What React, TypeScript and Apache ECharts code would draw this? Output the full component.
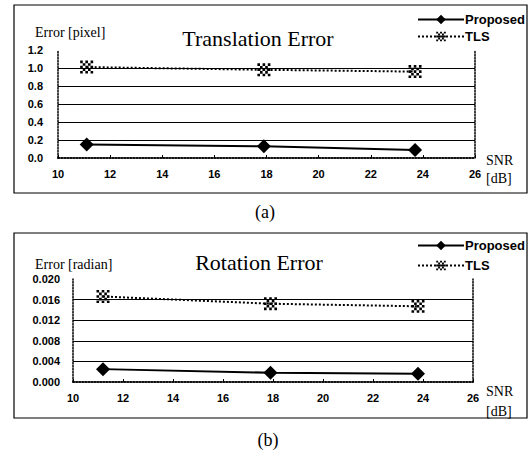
import React, { useEffect, useRef } from "react";
import * as echarts from "echarts";

const snrTrans = [11.1, 17.9, 23.7];
const proposedTrans = [0.15, 0.13, 0.09];
const tlsTrans = [1.01, 0.98, 0.96];

const snrRot = [11.2, 17.9, 23.8];
const proposedRot = [0.0025, 0.0018, 0.0016];
const tlsRot = [0.0166, 0.0152, 0.0147];

const seriesNames = ["Proposed", "TLS"];
const transTitle = "Translation Error";
const rotTitle = "Rotation Error";
const transYLabel = "Error [pixel]";
const rotYLabel = "Error [radian]";

const SERIF = "'Liberation Serif', 'Times New Roman', serif";
const SANS = "'Liberation Sans', Arial, sans-serif";

function checkerPath(n: number): string {
  let d = "path://";
  for (let i = 0; i < n; i++) {
    for (let j = 0; j < n; j++) {
      if ((i + j) % 2 === 0) d += `M${i * 2},${j * 2}h2v2h-2z`;
    }
  }
  return d;
}
const TLS_SYMBOL = checkerPath(5);

export default function App() {
  const ref = useRef<HTMLDivElement>(null);
  useEffect(() => {
    if (!ref.current) return;
    const chart = echarts.init(ref.current, null, { renderer: "svg" });
    const axisLabel = { fontFamily: SANS, fontWeight: "bold" as const, fontSize: 11, color: "#000" };
    const dotted = { show: true, lineStyle: { color: "#000", type: "dotted" as const, width: 1.5 } };
    const mkX = (gridIndex: number) => ({
      type: "value" as const,
      gridIndex,
      min: 10,
      max: 26,
      interval: 2,
      axisLine: dotted,
      axisTick: { show: true, inside: true, length: 3, lineStyle: { color: "#000" } },
      axisLabel: { ...axisLabel, margin: 10 },
      splitLine: { show: false },
    });
    const mkXTop = (gridIndex: number) => ({
      type: "value" as const,
      gridIndex,
      position: "top" as const,
      min: 10,
      max: 26,
      axisLine: dotted,
      axisTick: { show: false },
      axisLabel: { show: false },
      splitLine: { show: false },
    });
    const mkY = (gridIndex: number, max: number, interval: number, digits: number, margin: number) => ({
      type: "value" as const,
      gridIndex,
      min: 0,
      max,
      interval,
      axisLine: dotted,
      axisTick: { show: false },
      axisLabel: { ...axisLabel, margin, formatter: (v: number) => v.toFixed(digits) },
      splitLine: { show: true, showMaxLine: false, showMinLine: false, lineStyle: { color: "#000", width: 1 } },
    });
    const mkYRight = (gridIndex: number, max: number) => ({
      type: "value" as const,
      gridIndex,
      position: "right" as const,
      min: 0,
      max,
      axisLine: dotted,
      axisTick: { show: false },
      axisLabel: { show: false },
      splitLine: { show: false },
    });
    const propStyle = {
      symbol: "diamond",
      symbolSize: 14,
      itemStyle: { color: "#000" },
      lineStyle: { color: "#000", width: 2 },
    };
    const tlsStyle = {
      symbol: TLS_SYMBOL,
      symbolSize: 13,
      itemStyle: { color: "#000" },
      lineStyle: { color: "#000", width: 2, type: "dotted" as const },
    };
    const pairs = (xs: number[], ys: number[]) => xs.map((x, i) => [x, ys[i]]);
    const legend = (top: number, gap: number) => ({
      orient: "vertical" as const,
      left: 412,
      top,
      itemWidth: 46,
      itemHeight: 12,
      itemGap: gap,
      data: seriesNames,
      selectedMode: false,
      textStyle: { fontFamily: SANS, fontWeight: "bold" as const, fontSize: 13, color: "#000", padding: [0, 0, 0, -4] },
    });
    const txt = (x: number, y: number, text: string, size: number, align = "left") => ({
      type: "text" as const,
      x,
      y,
      style: { text, fontFamily: SERIF, fontSize: size, fill: "#000", textAlign: align, textVerticalAlign: "middle" },
    });
    chart.setOption({
      animation: false,
      backgroundColor: "#fff",
      grid: [
        { left: 58, right: 54, top: 50, height: 108 },
        { left: 73, right: 56, top: 279, height: 103 },
      ],
      xAxis: [mkX(0), mkX(1), mkXTop(0), mkXTop(1)],
      yAxis: [mkY(0, 1.2, 0.2, 1, 15), mkY(1, 0.02, 0.004, 3, 13), mkYRight(0, 1.2), mkYRight(1, 0.02)],
      legend: [legend(8, 4), legend(234, 7)],
      series: [
        { name: seriesNames[0], type: "line", xAxisIndex: 0, yAxisIndex: 0, data: pairs(snrTrans, proposedTrans), ...propStyle },
        { name: seriesNames[1], type: "line", xAxisIndex: 0, yAxisIndex: 0, data: pairs(snrTrans, tlsTrans), ...tlsStyle },
        { name: seriesNames[0], type: "line", xAxisIndex: 1, yAxisIndex: 1, data: pairs(snrRot, proposedRot), ...propStyle },
        { name: seriesNames[1], type: "line", xAxisIndex: 1, yAxisIndex: 1, data: pairs(snrRot, tlsRot), ...tlsStyle },
      ],
      graphic: [
        { type: "rect", shape: { x: 14, y: 5, width: 513, height: 188 }, style: { fill: "none", stroke: "#000", lineWidth: 1.2 } },
        { type: "rect", shape: { x: 14, y: 233, width: 513, height: 185 }, style: { fill: "none", stroke: "#000", lineWidth: 1.2 } },
        txt(258, 38, transTitle, 22, "center"),
        txt(35, 32, transYLabel, 14),
        txt(486, 160, "SNR", 14),
        txt(486, 178, "[dB]", 14),
        txt(265, 212, "(a)", 18, "center"),
        txt(259, 262, rotTitle, 22, "center"),
        txt(35, 264, rotYLabel, 14),
        txt(486, 391, "SNR", 14),
        txt(486, 411, "[dB]", 14),
        txt(268, 440, "(b)", 18, "center"),
      ],
    });
    return () => chart.dispose();
  }, []);
  return (
    <div
      ref={ref}
      style={{ position: "absolute", left: 0, top: 0, width: 529, height: 460, background: "#fff" }}
    />
  );
}
